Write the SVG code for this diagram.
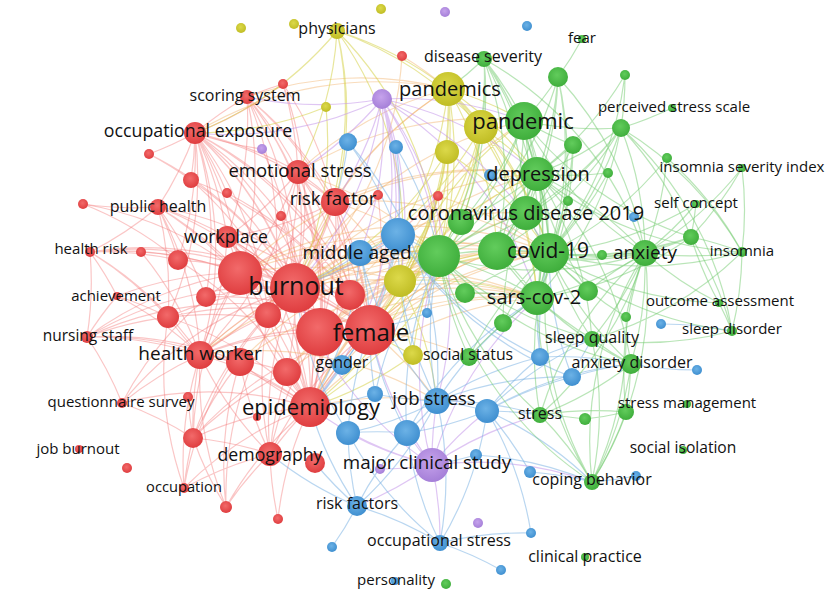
<svg xmlns="http://www.w3.org/2000/svg" width="829" height="600" viewBox="0 0 829 600">
<defs>
<radialGradient id="gR" cx="45%" cy="40%" r="60%"><stop offset="0" stop-color="#f26a6a"/><stop offset="1" stop-color="#df3d3f"/></radialGradient>
<radialGradient id="gG" cx="45%" cy="40%" r="60%"><stop offset="0" stop-color="#62cc5c"/><stop offset="1" stop-color="#3fae3c"/></radialGradient>
<radialGradient id="gB" cx="45%" cy="40%" r="60%"><stop offset="0" stop-color="#6cb2e6"/><stop offset="1" stop-color="#3f8fd0"/></radialGradient>
<radialGradient id="gY" cx="45%" cy="40%" r="60%"><stop offset="0" stop-color="#dcd94a"/><stop offset="1" stop-color="#c0bd24"/></radialGradient>
<radialGradient id="gP" cx="45%" cy="40%" r="60%"><stop offset="0" stop-color="#c6a3ec"/><stop offset="1" stop-color="#a57fd8"/></radialGradient>
</defs>
<style>
.e{fill:none;stroke-width:1.2;stroke-linecap:round}
.er{stroke:#f27878;stroke-opacity:.42}
.eo{stroke:#f0a24e;stroke-opacity:.38}
.ey{stroke:#d6d24a;stroke-opacity:.55}
.ep{stroke:#c598ea;stroke-opacity:.55}
.eb{stroke:#7fb4e4;stroke-opacity:.55}
.eg{stroke:#74cc70;stroke-opacity:.5}
.r{fill:url(#gR)} .g{fill:url(#gG)} .b{fill:url(#gB)} .y{fill:url(#gY)} .p{fill:url(#gP)}
text{font-family:"Open Sans","DejaVu Sans",sans-serif;fill:#111;text-anchor:middle}
.s15{font-size:15px}.s16{font-size:16px}.s18{font-size:18px}.s19{font-size:19px}.s20{font-size:20px}.s22{font-size:22px}.s25{font-size:25px}
</style>
<rect width="829" height="600" fill="#fff"/>
<g id="connectors">
<path class="e er" d="M195 133A350 350 0 0 1 295 288M195 133A350 350 0 0 1 240 273M195 133A350 350 0 0 1 298 172M195 133A350 350 0 0 1 335 202M195 133A350 350 0 0 1 227 237M195 133A350 350 0 0 1 200 355M195 133A350 350 0 0 1 370 330M195 133A350 350 0 0 1 320 332M195 133A350 350 0 0 1 310 407M195 133A350 350 0 0 1 178 260M195 133A350 350 0 0 1 206 297M195 133A350 350 0 0 1 158 207M195 133A350 350 0 0 1 191 180M195 133A350 350 0 0 1 227 193M195 133A350 350 0 0 1 281 216M195 133A350 350 0 0 1 350 295M195 133A350 350 0 0 1 268 315M195 133A350 350 0 0 1 247 97M195 133A350 350 0 0 1 149 154M195 133A350 350 0 0 1 168 317"/>
<path class="e er" d="M247 97A350 350 0 0 1 295 288M247 97A350 350 0 0 1 240 273M247 97A350 350 0 0 1 298 172M247 97A350 350 0 0 1 335 202M247 97A350 350 0 0 1 370 330M247 97A350 350 0 0 1 227 237M247 97A350 350 0 0 1 268 315M247 97A350 350 0 0 1 283 84M247 97A350 350 0 0 1 320 332M247 97A350 350 0 0 1 310 407"/>
<path class="e er" d="M158 207A350 350 0 0 1 295 288M158 207A350 350 0 0 1 240 273M158 207A350 350 0 0 1 200 355M158 207A350 350 0 0 1 227 237M158 207A350 350 0 0 1 90 252M158 207A350 350 0 0 1 83 204M158 207A350 350 0 0 1 178 260M158 207A350 350 0 0 1 168 317M158 207A350 350 0 0 1 310 407M158 207A350 350 0 0 1 370 330M158 207A350 350 0 0 1 206 297M158 207A350 350 0 0 1 320 332"/>
<path class="e er" d="M90 252A350 350 0 0 1 295 288M90 252A350 350 0 0 1 240 273M90 252A350 350 0 0 1 178 260M90 252A350 350 0 0 1 87 337M90 252A350 350 0 0 1 117 296M90 252A350 350 0 0 1 168 317M90 252A350 350 0 0 1 200 355M90 252A350 350 0 0 1 370 330M90 252A350 350 0 0 1 141 252"/>
<path class="e er" d="M87 337A350 350 0 0 1 295 288M87 337A350 350 0 0 1 240 273M87 337A350 350 0 0 1 200 355M87 337A350 350 0 0 1 168 317M87 337A350 350 0 0 1 310 407M87 337A350 350 0 0 1 370 330M87 337A350 350 0 0 1 117 296M87 337A350 350 0 0 1 122 403M87 337A350 350 0 0 1 320 332M87 337A350 350 0 0 1 240 362"/>
<path class="e er" d="M117 296A350 350 0 0 1 240 273M117 296A350 350 0 0 1 168 317M117 296A350 350 0 0 1 200 355M122 403A350 350 0 0 1 200 355M122 403A350 350 0 0 1 193 438M122 403A350 350 0 0 1 310 407M122 403A350 350 0 0 1 295 288M122 403A350 350 0 0 1 240 273"/>
<path class="e er" d="M184 488A350 350 0 0 1 193 438M184 488A350 350 0 0 1 270 454M184 488A350 350 0 0 1 310 407M184 488A350 350 0 0 1 200 355M184 488A350 350 0 0 1 295 288M184 488A350 350 0 0 1 168 317M226 507A350 350 0 0 1 310 407M226 507A350 350 0 0 1 270 454M226 507A350 350 0 0 1 193 438M226 507A350 350 0 0 1 295 288M226 507A350 350 0 0 1 200 355M226 507A350 350 0 0 1 240 362"/>
<path class="e er" d="M193 438A350 350 0 0 1 310 407M193 438A350 350 0 0 1 270 454M193 438A350 350 0 0 1 295 288M193 438A350 350 0 0 1 240 273M193 438A350 350 0 0 1 200 355M193 438A350 350 0 0 1 370 330M193 438A350 350 0 0 1 240 362M193 438A350 350 0 0 1 287 372M193 438A350 350 0 0 1 188 397"/>
<path class="e er" d="M270 454A350 350 0 0 1 310 407M270 454A350 350 0 0 1 295 288M270 454A350 350 0 0 1 370 330M270 454A350 350 0 0 1 320 332M270 454A350 350 0 0 1 200 355M270 454A350 350 0 0 1 240 362M270 454A350 350 0 0 1 287 372M270 454A350 350 0 0 1 268 315M278 519A350 350 0 0 1 270 454M278 519A350 350 0 0 1 310 407"/>
<path class="e er" d="M298 172A350 350 0 0 1 295 288M298 172A350 350 0 0 1 370 330M298 172A350 350 0 0 1 320 332M298 172A350 350 0 0 1 335 202M298 172A350 350 0 0 1 310 407M298 172A350 350 0 0 1 240 273M298 172A350 350 0 0 1 350 295M298 172A350 350 0 0 1 227 237M298 172A350 350 0 0 1 200 355M298 172A350 350 0 0 1 268 315"/>
<path class="e er" d="M335 202A350 350 0 0 1 295 288M335 202A350 350 0 0 1 370 330M335 202A350 350 0 0 1 320 332M335 202A350 350 0 0 1 310 407M335 202A350 350 0 0 1 240 273M335 202A350 350 0 0 1 350 295M335 202A350 350 0 0 1 268 315M335 202A350 350 0 0 1 200 355M335 202A350 350 0 0 1 227 237"/>
<path class="e er" d="M227 237A350 350 0 0 1 295 288M227 237A350 350 0 0 1 240 273M227 237A350 350 0 0 1 370 330M227 237A350 350 0 0 1 310 407M227 237A350 350 0 0 1 200 355M227 237A350 350 0 0 1 268 315M227 237A350 350 0 0 1 320 332"/>
<path class="e er" d="M200 355A350 350 0 0 1 295 288M200 355A350 350 0 0 1 240 273M200 355A350 350 0 0 1 370 330M200 355A350 350 0 0 1 320 332M200 355A350 350 0 0 1 310 407M200 355A350 350 0 0 1 240 362M200 355A350 350 0 0 1 287 372M200 355A350 350 0 0 1 268 315M200 355A350 350 0 0 1 168 317"/>
<path class="e er" d="M310 407A350 350 0 0 1 295 288M310 407A350 350 0 0 1 240 273M310 407A350 350 0 0 1 370 330M310 407A350 350 0 0 1 320 332M310 407A350 350 0 0 1 350 295M310 407A350 350 0 0 1 268 315M310 407A350 350 0 0 1 287 372M310 407A350 350 0 0 1 240 362M295 288A350 350 0 0 1 370 330M295 288A350 350 0 0 1 320 332M295 288A350 350 0 0 1 350 295M295 288A350 350 0 0 1 268 315M295 288A350 350 0 0 1 240 273M295 288A350 350 0 0 1 287 372"/>
<path class="e er" d="M283 84A350 350 0 0 1 298 172M283 84A350 350 0 0 1 335 202M283 84A350 350 0 0 1 195 133M283 84A350 350 0 0 1 295 288M149 154A350 350 0 0 1 295 288M149 154A350 350 0 0 1 191 180M83 204A350 350 0 0 1 240 273M83 204A350 350 0 0 1 178 260M141 252A350 350 0 0 1 240 273M141 252A350 350 0 0 1 200 355M206 297A350 350 0 0 1 295 288M206 297A350 350 0 0 1 370 330M178 260A350 350 0 0 1 295 288M178 260A350 350 0 0 1 370 330M178 260A350 350 0 0 1 310 407M191 180A350 350 0 0 1 295 288M191 180A350 350 0 0 1 370 330M191 180A350 350 0 0 1 310 407M227 193A350 350 0 0 1 295 288M227 193A350 350 0 0 1 370 330M281 216A350 350 0 0 1 295 288M281 216A350 350 0 0 1 370 330M281 216A350 350 0 0 1 310 407M168 317A350 350 0 0 1 295 288M168 317A350 350 0 0 1 370 330M168 317A350 350 0 0 1 310 407M378 195A350 350 0 0 1 295 288M378 195A350 350 0 0 1 370 330M438 196A350 350 0 0 1 370 330M438 196A350 350 0 0 1 295 288M262 149A350 350 0 0 1 195 133M262 149A350 350 0 0 1 295 288"/>
<path class="e eo" d="M295 288A350 350 0 0 1 439 256M295 288A350 350 0 0 1 497 251M295 288A350 350 0 0 1 549 253M295 288A350 350 0 0 1 537 174M295 288A350 350 0 0 1 524 121M295 288A350 350 0 0 1 400 281M295 288A350 350 0 0 1 448 89M295 288A350 350 0 0 1 398 235M295 288A350 350 0 0 1 537 298M295 288A350 350 0 0 1 526 213M370 330A350 350 0 0 1 439 256M370 330A350 350 0 0 1 549 253M370 330A350 350 0 0 1 537 298M370 330A350 350 0 0 1 400 281M370 330A350 350 0 0 1 437 401M370 330A350 350 0 0 1 497 251M370 330A350 350 0 0 1 524 121M370 330A350 350 0 0 1 537 174M370 330A350 350 0 0 1 469 357"/>
<path class="e eo" d="M310 407A350 350 0 0 1 537 298M310 407A350 350 0 0 1 437 401M310 407A350 350 0 0 1 400 281M310 407A350 350 0 0 1 439 256M310 407A350 350 0 0 1 549 253M335 202A350 350 0 0 1 439 256M335 202A350 350 0 0 1 400 281M335 202A350 350 0 0 1 549 253M335 202A350 350 0 0 1 537 174M335 202A350 350 0 0 1 448 89M298 172A350 350 0 0 1 439 256M298 172A350 350 0 0 1 448 89M298 172A350 350 0 0 1 524 121M240 273A350 350 0 0 1 439 256M240 273A350 350 0 0 1 549 253M240 273A350 350 0 0 1 400 281M200 355A350 350 0 0 1 439 256M200 355A350 350 0 0 1 437 401M200 355A350 350 0 0 1 537 298M247 97A350 350 0 0 1 448 89M195 133A350 350 0 0 1 448 89M402 56A350 350 0 0 1 448 89M402 56A350 350 0 0 1 295 288M438 196A350 350 0 0 1 439 256M438 196A350 350 0 0 1 549 253"/>
<path class="e eo" d="M320 332A350 350 0 0 1 439 256M320 332A350 350 0 0 1 549 253M320 332A350 350 0 0 1 537 298M320 332A350 350 0 0 1 497 251M320 332A350 350 0 0 1 400 281M320 332A350 350 0 0 1 537 174M350 295A350 350 0 0 1 439 256M350 295A350 350 0 0 1 549 253M350 295A350 350 0 0 1 400 281M350 295A350 350 0 0 1 537 298M350 295A350 350 0 0 1 497 251M268 315A350 350 0 0 1 439 256M268 315A350 350 0 0 1 400 281M268 315A350 350 0 0 1 549 253M287 372A350 350 0 0 1 439 256M287 372A350 350 0 0 1 537 298M287 372A350 350 0 0 1 400 281M240 362A350 350 0 0 1 439 256M240 362A350 350 0 0 1 537 298M240 273A350 350 0 0 1 497 251M240 273A350 350 0 0 1 537 174M310 407A350 350 0 0 1 497 251M310 407A350 350 0 0 1 526 213"/>
<path class="e ey" d="M337 31A350 350 0 0 1 448 89M337 31A350 350 0 0 1 481 127M337 31A350 350 0 0 1 400 281M337 31A350 350 0 0 1 295 288M337 31A350 350 0 0 1 298 172M337 31A350 350 0 0 1 439 256M337 31A350 350 0 0 1 335 202M337 31A350 350 0 0 1 195 133M326 107A350 350 0 0 1 195 133M326 107A350 350 0 0 1 295 288"/>
<path class="e ey" d="M448 89A350 350 0 0 1 481 127M448 89A350 350 0 0 1 400 281M448 89A350 350 0 0 1 439 256M448 89A350 350 0 0 1 497 251M448 89A350 350 0 0 1 549 253M448 89A350 350 0 0 1 524 121M448 89A350 350 0 0 1 537 174M448 89A350 350 0 0 1 370 330M448 89A350 350 0 0 1 310 407M448 89A350 350 0 0 1 398 235M448 89A350 350 0 0 1 537 298"/>
<path class="e ey" d="M481 127A350 350 0 0 1 400 281M481 127A350 350 0 0 1 439 256M481 127A350 350 0 0 1 549 253M481 127A350 350 0 0 1 537 298M481 127A350 350 0 0 1 370 330M481 127A350 350 0 0 1 295 288M481 127A350 350 0 0 1 310 407M481 127A350 350 0 0 1 537 174M447 152A350 350 0 0 1 400 281M447 152A350 350 0 0 1 439 256M447 152A350 350 0 0 1 295 288M447 152A350 350 0 0 1 370 330M447 152A350 350 0 0 1 549 253M400 281A350 350 0 0 1 370 330M400 281A350 350 0 0 1 439 256M400 281A350 350 0 0 1 537 298M400 281A350 350 0 0 1 437 401M413 355A350 350 0 0 1 370 330M413 355A350 350 0 0 1 439 256M413 355A350 350 0 0 1 400 281M413 355A350 350 0 0 1 310 407M400 281A350 350 0 0 1 549 253M400 281A350 350 0 0 1 497 251M400 281A350 350 0 0 1 537 174M400 281A350 350 0 0 1 524 121"/>
<path class="e ep" d="M382 99A350 350 0 0 1 295 288M382 99A350 350 0 0 1 370 330M382 99A350 350 0 0 1 310 407M382 99A350 350 0 0 1 439 256M382 99A350 350 0 0 1 400 281M382 99A350 350 0 0 1 398 235M382 99A350 350 0 0 1 335 202M382 99A350 350 0 0 1 298 172M382 99A350 350 0 0 1 360 253M382 99A350 350 0 0 1 437 401M382 99A350 350 0 0 1 549 253M382 99A350 350 0 0 1 247 97M382 99A350 350 0 0 1 195 133M382 99A350 350 0 0 1 537 298M382 99A350 350 0 0 1 537 174M382 99A350 350 0 0 1 524 121"/>
<path class="e ep" d="M432 465A350 350 0 0 1 437 401M432 465A350 350 0 0 1 348 433M432 465A350 350 0 0 1 407 433M432 465A350 350 0 0 1 487 411M432 465A350 350 0 0 1 310 407M432 465A350 350 0 0 1 370 330M432 465A350 350 0 0 1 295 288M432 465A350 350 0 0 1 439 256M432 465A350 350 0 0 1 357 506M432 465A350 350 0 0 1 440 543M432 465A350 350 0 0 1 592 482M432 465A350 350 0 0 1 540 415M432 465A350 350 0 0 1 380 469M432 465A350 350 0 0 1 537 298"/>
<path class="e eb" d="M437 401A350 350 0 0 1 348 433M437 401A350 350 0 0 1 407 433M437 401A350 350 0 0 1 487 411M437 401A350 350 0 0 1 398 235M437 401A350 350 0 0 1 360 253M437 401A350 350 0 0 1 439 256M437 401A350 350 0 0 1 540 357M437 401A350 350 0 0 1 572 377M437 401A350 350 0 0 1 357 506M437 401A350 350 0 0 1 440 543M437 401A350 350 0 0 1 540 415M437 401A350 350 0 0 1 375 394M437 401A350 350 0 0 1 537 298"/>
<path class="e eb" d="M487 411A350 350 0 0 1 540 357M487 411A350 350 0 0 1 572 377M487 411A350 350 0 0 1 592 482M487 411A350 350 0 0 1 540 415M487 411A350 350 0 0 1 440 543M487 411A350 350 0 0 1 530 472M487 411A350 350 0 0 1 531 533M487 411A350 350 0 0 1 631 364M487 411A350 350 0 0 1 407 433M487 411A350 350 0 0 1 592 339"/>
<path class="e eb" d="M357 506A350 350 0 0 1 332 547M357 506A350 350 0 0 1 348 433M357 506A350 350 0 0 1 407 433M357 506A350 350 0 0 1 310 407M357 506A350 350 0 0 1 270 454M357 506A350 350 0 0 1 440 543M357 506A350 350 0 0 1 315 463M440 543A350 350 0 0 1 531 533M440 543A350 350 0 0 1 348 433M440 543A350 350 0 0 1 407 433M440 543A350 350 0 0 1 501 570"/>
<path class="e eb" d="M540 357A350 350 0 0 1 592 339M540 357A350 350 0 0 1 631 364M540 357A350 350 0 0 1 398 235M540 357A350 350 0 0 1 537 298M540 357A350 350 0 0 1 549 253M572 377A350 350 0 0 1 592 339M572 377A350 350 0 0 1 631 364M572 377A350 350 0 0 1 398 235M572 377A350 350 0 0 1 549 253M398 235A350 350 0 0 1 360 253M398 235A350 350 0 0 1 370 330M398 235A350 350 0 0 1 295 288M398 235A350 350 0 0 1 439 256M398 235A350 350 0 0 1 310 407M360 253A350 350 0 0 1 295 288M360 253A350 350 0 0 1 370 330M360 253A350 350 0 0 1 439 256M360 253A350 350 0 0 1 310 407"/>
<path class="e eb" d="M348 142A350 350 0 0 1 398 235M348 142A350 350 0 0 1 335 202M348 142A350 350 0 0 1 437 401M396 147A350 350 0 0 1 398 235M396 147A350 350 0 0 1 439 256M697 370A350 350 0 0 1 631 364M661 324A350 350 0 0 1 732 331M636 476A350 350 0 0 1 592 482M530 472A350 350 0 0 1 592 482M476 455A350 350 0 0 1 432 465M476 455A350 350 0 0 1 592 482M342 365A350 350 0 0 1 370 330M342 365A350 350 0 0 1 310 407M375 394A350 350 0 0 1 310 407M375 394A350 350 0 0 1 370 330M348 433A350 350 0 0 1 370 330M348 433A350 350 0 0 1 295 288M348 433A350 350 0 0 1 407 433M407 433A350 350 0 0 1 370 330M407 433A350 350 0 0 1 439 256M407 433A350 350 0 0 1 537 298M375 394A350 350 0 0 1 439 256M427 313A350 350 0 0 1 439 256M427 313A350 350 0 0 1 370 330"/>
<path class="e eg" d="M484 59A350 350 0 0 1 524 121M484 59A350 350 0 0 1 537 174M484 59A350 350 0 0 1 549 253M484 59A350 350 0 0 1 497 251M484 59A350 350 0 0 1 439 256M484 59A350 350 0 0 1 461 222M484 59A350 350 0 0 1 526 213M484 59A350 350 0 0 1 448 89M484 59A350 350 0 0 1 481 127M484 59A350 350 0 0 1 645 253M484 59A350 350 0 0 1 537 298"/>
<path class="e eg" d="M558 77A350 350 0 0 1 524 121M558 77A350 350 0 0 1 537 174M558 77A350 350 0 0 1 549 253M558 77A350 350 0 0 1 526 213M558 77A350 350 0 0 1 497 251M558 77A350 350 0 0 1 645 253M558 77A350 350 0 0 1 439 256M558 77A350 350 0 0 1 537 298M625 75A350 350 0 0 1 621 128M625 75A350 350 0 0 1 537 174M625 75A350 350 0 0 1 549 253M582 39A350 350 0 0 1 558 77M672 108A350 350 0 0 1 621 128"/>
<path class="e eg" d="M621 128A350 350 0 0 1 524 121M621 128A350 350 0 0 1 537 174M621 128A350 350 0 0 1 549 253M621 128A350 350 0 0 1 645 253M621 128A350 350 0 0 1 497 251M621 128A350 350 0 0 1 439 256M621 128A350 350 0 0 1 537 298M621 128A350 350 0 0 1 526 213M621 128A350 350 0 0 1 742 252M621 128A350 350 0 0 1 691 237M621 128A350 350 0 0 1 732 331"/>
<path class="e eg" d="M573 145A350 350 0 0 1 549 253M573 145A350 350 0 0 1 537 174M573 145A350 350 0 0 1 524 121M573 145A350 350 0 0 1 537 298M573 145A350 350 0 0 1 497 251M667 158A350 350 0 0 1 549 253M667 158A350 350 0 0 1 645 253M667 158A350 350 0 0 1 742 252M742 168A350 350 0 0 1 742 252M742 168A350 350 0 0 1 691 237M742 168A350 350 0 0 1 645 253"/>
<path class="e eg" d="M537 174A350 350 0 0 1 549 253M537 174A350 350 0 0 1 439 256M537 174A350 350 0 0 1 497 251M537 174A350 350 0 0 1 537 298M537 174A350 350 0 0 1 645 253M537 174A350 350 0 0 1 524 121M537 174A350 350 0 0 1 461 222M537 174A350 350 0 0 1 526 213M537 174A350 350 0 0 1 631 364M537 174A350 350 0 0 1 592 339"/>
<path class="e eg" d="M696 204A350 350 0 0 1 645 253M696 204A350 350 0 0 1 549 253M696 204A350 350 0 0 1 691 237M691 237A350 350 0 0 1 645 253M691 237A350 350 0 0 1 549 253M691 237A350 350 0 0 1 742 252M691 237A350 350 0 0 1 732 331M691 237A350 350 0 0 1 497 251M691 237A350 350 0 0 1 537 298M691 237A350 350 0 0 1 524 121"/>
<path class="e eg" d="M742 252A350 350 0 0 1 645 253M742 252A350 350 0 0 1 549 253M742 252A350 350 0 0 1 732 331M742 252A350 350 0 0 1 592 339M742 252A350 350 0 0 1 537 174M645 253A350 350 0 0 1 549 253M645 253A350 350 0 0 1 497 251M645 253A350 350 0 0 1 439 256M645 253A350 350 0 0 1 537 298M645 253A350 350 0 0 1 631 364M645 253A350 350 0 0 1 592 339M645 253A350 350 0 0 1 540 415M645 253A350 350 0 0 1 592 482M645 253A350 350 0 0 1 524 121"/>
<path class="e eg" d="M719 303A350 350 0 0 1 732 331M719 303A350 350 0 0 1 645 253M719 303A350 350 0 0 1 549 253M719 303A350 350 0 0 1 691 237M732 331A350 350 0 0 1 592 339M732 331A350 350 0 0 1 549 253M631 364A350 350 0 0 1 549 253M631 364A350 350 0 0 1 537 298M631 364A350 350 0 0 1 540 415M631 364A350 350 0 0 1 592 482M631 364A350 350 0 0 1 439 256M631 364A350 350 0 0 1 497 251M631 364A350 350 0 0 1 626 412M631 364A350 350 0 0 1 592 339"/>
<path class="e eg" d="M592 339A350 350 0 0 1 549 253M592 339A350 350 0 0 1 537 298M592 339A350 350 0 0 1 592 482M592 339A350 350 0 0 1 439 256M540 415A350 350 0 0 1 592 482M540 415A350 350 0 0 1 585 419M540 415A350 350 0 0 1 626 412M540 415A350 350 0 0 1 439 256M540 415A350 350 0 0 1 549 253M540 415A350 350 0 0 1 645 253M626 412A350 350 0 0 1 585 419M626 412A350 350 0 0 1 592 482M626 412A350 350 0 0 1 645 253"/>
<path class="e eg" d="M592 482A350 350 0 0 1 549 253M592 482A350 350 0 0 1 537 298M592 482A350 350 0 0 1 439 256M592 482A350 350 0 0 1 645 253M626 317A350 350 0 0 1 592 482M626 317A350 350 0 0 1 549 253M626 317A350 350 0 0 1 645 253M524 121A350 350 0 0 1 549 253M524 121A350 350 0 0 1 439 256M524 121A350 350 0 0 1 497 251M524 121A350 350 0 0 1 537 298M524 121A350 350 0 0 1 526 213M524 121A350 350 0 0 1 461 222"/>
<path class="e eg" d="M439 256A350 350 0 0 1 549 253M439 256A350 350 0 0 1 497 251M439 256A350 350 0 0 1 537 298M439 256A350 350 0 0 1 526 213M439 256A350 350 0 0 1 461 222M439 256A350 350 0 0 1 465 293M497 251A350 350 0 0 1 549 253M497 251A350 350 0 0 1 537 298M497 251A350 350 0 0 1 526 213M549 253A350 350 0 0 1 537 298M549 253A350 350 0 0 1 526 213M588 291A350 350 0 0 1 549 253M588 291A350 350 0 0 1 537 174M588 291A350 350 0 0 1 645 253M465 293A350 350 0 0 1 549 253M465 293A350 350 0 0 1 537 298M503 323A350 350 0 0 1 549 253M503 323A350 350 0 0 1 537 174M469 357A350 350 0 0 1 549 253M469 357A350 350 0 0 1 439 256M469 357A350 350 0 0 1 537 298M568 201A350 350 0 0 1 549 253M568 201A350 350 0 0 1 537 174M608 173A350 350 0 0 1 537 174M608 173A350 350 0 0 1 549 253M602 255A350 350 0 0 1 549 253M602 255A350 350 0 0 1 645 253"/>
</g>
<g id="nodes">
<g id="n-r1"><circle class="r" cx="283" cy="84" r="5"/></g>
<g id="n-r2"><circle class="r" cx="402" cy="56" r="5"/></g>
<g id="n-r3"><circle class="r" cx="149" cy="154" r="5"/></g>
<g id="n-r4"><circle class="r" cx="191" cy="180" r="8"/></g>
<g id="n-r5"><circle class="r" cx="227" cy="193" r="5"/></g>
<g id="n-r6"><circle class="r" cx="378" cy="195" r="5"/></g>
<g id="n-r7"><circle class="r" cx="438" cy="196" r="5"/></g>
<g id="n-r8"><circle class="r" cx="83" cy="204" r="5"/></g>
<g id="n-r9"><circle class="r" cx="281" cy="216" r="5"/></g>
<g id="n-r10"><circle class="r" cx="141" cy="252" r="5"/></g>
<g id="n-r11"><circle class="r" cx="178" cy="260" r="10"/></g>
<g id="n-r12"><circle class="r" cx="206" cy="297" r="10"/></g>
<g id="n-r2b"><circle class="r" cx="240" cy="273" r="22"/></g>
<g id="n-r13"><circle class="r" cx="350" cy="295" r="15"/></g>
<g id="n-r14"><circle class="r" cx="268" cy="315" r="13"/></g>
<g id="n-r15"><circle class="r" cx="168" cy="317" r="11"/></g>
<g id="n-r16"><circle class="r" cx="240" cy="362" r="14"/></g>
<g id="n-r17"><circle class="r" cx="287" cy="372" r="14"/></g>
<g id="n-r18"><circle class="r" cx="188" cy="397" r="5"/></g>
<g id="n-r19"><circle class="r" cx="193" cy="438" r="10"/></g>
<g id="n-r20"><circle class="r" cx="315" cy="463" r="10"/></g>
<g id="n-r21"><circle class="r" cx="127" cy="468" r="5"/></g>
<g id="n-r22"><circle class="r" cx="226" cy="507" r="6"/></g>
<g id="n-r23"><circle class="r" cx="278" cy="519" r="5"/></g>
<g id="n-r24"><circle class="r" cx="257" cy="417" r="4"/></g>
<g id="n-f2"><circle class="r" cx="320" cy="332" r="24"/></g>
<g id="n-y1"><circle class="y" cx="241" cy="28" r="5"/></g>
<g id="n-y2"><circle class="y" cx="294" cy="24" r="5"/></g>
<g id="n-y3"><circle class="y" cx="381" cy="9" r="5"/></g>
<g id="n-y4"><circle class="y" cx="326" cy="107" r="5"/></g>
<g id="n-y5"><circle class="y" cx="447" cy="152" r="12"/></g>
<g id="n-y6"><circle class="y" cx="400" cy="281" r="16"/></g>
<g id="n-y7"><circle class="y" cx="413" cy="355" r="10"/></g>
<g id="n-yp2"><circle class="y" cx="481" cy="127" r="17"/></g>
<g id="n-p1"><circle class="p" cx="382" cy="99" r="10"/></g>
<g id="n-p2"><circle class="p" cx="262" cy="149" r="5"/></g>
<g id="n-p3"><circle class="p" cx="445" cy="12" r="5"/></g>
<g id="n-p4"><circle class="p" cx="380" cy="469" r="5"/></g>
<g id="n-p5"><circle class="p" cx="478" cy="523" r="5"/></g>
<g id="n-b1"><circle class="b" cx="348" cy="142" r="9"/></g>
<g id="n-b2"><circle class="b" cx="396" cy="147" r="7"/></g>
<g id="n-b3"><circle class="b" cx="527" cy="26" r="5"/></g>
<g id="n-b4"><circle class="b" cx="490" cy="175" r="6"/></g>
<g id="n-bb"><circle class="b" cx="398" cy="235" r="17"/></g>
<g id="n-b5"><circle class="b" cx="427" cy="313" r="5"/></g>
<g id="n-b6"><circle class="b" cx="375" cy="394" r="8"/></g>
<g id="n-b7"><circle class="b" cx="348" cy="433" r="12"/></g>
<g id="n-b8"><circle class="b" cx="407" cy="433" r="13"/></g>
<g id="n-b9"><circle class="b" cx="487" cy="411" r="12"/></g>
<g id="n-b10"><circle class="b" cx="476" cy="455" r="6"/></g>
<g id="n-b11"><circle class="b" cx="530" cy="472" r="6"/></g>
<g id="n-b12"><circle class="b" cx="540" cy="357" r="9"/></g>
<g id="n-b13"><circle class="b" cx="572" cy="377" r="9"/></g>
<g id="n-b14"><circle class="b" cx="634" cy="217" r="5"/></g>
<g id="n-b15"><circle class="b" cx="661" cy="324" r="5"/></g>
<g id="n-b16"><circle class="b" cx="697" cy="370" r="5"/></g>
<g id="n-b17"><circle class="b" cx="636" cy="476" r="5"/></g>
<g id="n-b18"><circle class="b" cx="531" cy="533" r="5"/></g>
<g id="n-b19"><circle class="b" cx="332" cy="547" r="5"/></g>
<g id="n-b20"><circle class="b" cx="501" cy="570" r="5"/></g>
<g id="n-g1"><circle class="g" cx="558" cy="77" r="10"/></g>
<g id="n-g2"><circle class="g" cx="625" cy="75" r="5"/></g>
<g id="n-g3"><circle class="g" cx="621" cy="128" r="9"/></g>
<g id="n-g4"><circle class="g" cx="573" cy="145" r="9"/></g>
<g id="n-g5"><circle class="g" cx="667" cy="158" r="5"/></g>
<g id="n-g6"><circle class="g" cx="608" cy="173" r="5"/></g>
<g id="n-g7"><circle class="g" cx="568" cy="201" r="5"/></g>
<g id="n-g8"><circle class="g" cx="461" cy="222" r="13"/></g>
<g id="n-g9"><circle class="g" cx="439" cy="256" r="21"/></g>
<g id="n-g10"><circle class="g" cx="497" cy="251" r="19"/></g>
<g id="n-g11"><circle class="g" cx="602" cy="255" r="5"/></g>
<g id="n-g12"><circle class="g" cx="691" cy="237" r="8"/></g>
<g id="n-g13"><circle class="g" cx="588" cy="291" r="10"/></g>
<g id="n-g14"><circle class="g" cx="465" cy="293" r="10"/></g>
<g id="n-g15"><circle class="g" cx="503" cy="323" r="9"/></g>
<g id="n-g16"><circle class="g" cx="626" cy="317" r="5"/></g>
<g id="n-g17"><circle class="g" cx="585" cy="419" r="6"/></g>
<g id="n-g18"><circle class="g" cx="687" cy="404" r="4"/></g>
<g id="n-g19"><circle class="g" cx="446" cy="584" r="5"/></g>
<g id="n-burnout"><circle class="r" cx="295" cy="288" r="25"/><text class="s25" x="296" y="295">burnout</text></g>
<g id="n-female"><circle class="r" cx="370" cy="330" r="25"/><text class="s25" x="371" y="341" style="font-size:24px">female</text></g>
<g id="n-gender"><circle class="b" cx="342" cy="365" r="10"/><text class="s16" x="342" y="368">gender</text></g>
<g id="n-epidemiology"><circle class="r" cx="310" cy="407" r="20"/><text class="s22" x="311" y="415">epidemiology</text></g>
<g id="n-pandemic"><circle class="g" cx="524" cy="121" r="19"/><text class="s22" x="523" y="129">pandemic</text></g>
<g id="n-covid19"><circle class="g" cx="549" cy="253" r="20"/><text x="548" y="258" style="font-size:21px">covid-19</text></g>
<g id="n-pandemics"><circle class="y" cx="448" cy="89" r="17"/><text class="s20" x="450" y="96">pandemics</text></g>
<g id="n-depression"><circle class="g" cx="537" cy="174" r="17"/><text class="s20" x="538" y="181">depression</text></g>
<g id="n-coronavirus"><circle class="g" cx="526" cy="213" r="17"/><text class="s20" x="526" y="220">coronavirus disease 2019</text></g>
<g id="n-sarscov2"><circle class="g" cx="537" cy="298" r="17"/><text class="s20" x="534" y="304">sars-cov-2</text></g>
<g id="n-anxiety"><circle class="g" cx="645" cy="253" r="13"/><text class="s19" x="645" y="259">anxiety</text></g>
<g id="n-middleaged"><circle class="b" cx="360" cy="253" r="13"/><text class="s19" x="357" y="259">middle aged</text></g>
<g id="n-healthworker"><circle class="r" cx="200" cy="355" r="14"/><text class="s19" x="200" y="360">health worker</text></g>
<g id="n-jobstress"><circle class="b" cx="437" cy="401" r="13"/><text x="434" y="405" style="font-size:18.6px">job stress</text></g>
<g id="n-majorclinical"><circle class="p" cx="432" cy="465" r="17"/><text x="427" y="469" style="font-size:18.8px">major clinical study</text></g>
<g id="n-riskfactor"><circle class="r" cx="335" cy="202" r="14"/><text x="333" y="205" style="font-size:18.6px">risk factor</text></g>
<g id="n-emotional"><circle class="r" cx="298" cy="172" r="12"/><text x="300" y="177" style="font-size:18.5px">emotional stress</text></g>
<g id="n-workplace"><circle class="r" cx="227" cy="237" r="11"/><text x="226" y="243" style="font-size:17.6px">workplace</text></g>
<g id="n-occexposure"><circle class="r" cx="195" cy="133" r="11"/><text x="198" y="137" style="font-size:17.8px">occupational exposure</text></g>
<g id="n-demography"><circle class="r" cx="270" cy="454" r="12"/><text x="270" y="461" style="font-size:17.7px">demography</text></g>
<g id="n-scoring"><circle class="r" cx="247" cy="97" r="7"/><text class="s16" x="245" y="101">scoring system</text></g>
<g id="n-publichealth"><circle class="r" cx="158" cy="207" r="8"/><text class="s16" x="158" y="212">public health</text></g>
<g id="n-physicians"><circle class="y" cx="337" cy="31" r="8"/><text class="s16" x="337" y="34">physicians</text></g>
<g id="n-diseaseseverity"><circle class="g" cx="484" cy="59" r="8"/><text class="s16" x="483" y="62">disease severity</text></g>
<g id="n-anxietydisorder"><circle class="g" cx="631" cy="364" r="10"/><text class="s16" x="632" y="368">anxiety disorder</text></g>
<g id="n-sleepquality"><circle class="g" cx="592" cy="339" r="8"/><text class="s16" x="592" y="343">sleep quality</text></g>
<g id="n-socialstatus"><circle class="g" cx="469" cy="357" r="9"/><text x="468" y="360" style="font-size:15.8px">social status</text></g>
<g id="n-coping"><circle class="g" cx="592" cy="482" r="8"/><text class="s16" x="592" y="485">coping behavior</text></g>
<g id="n-stress"><circle class="g" cx="540" cy="415" r="8"/><text class="s16" x="540" y="419">stress</text></g>
<g id="n-riskfactors"><circle class="b" cx="357" cy="506" r="10"/><text class="s16" x="357" y="509">risk factors</text></g>
<g id="n-occstress"><circle class="b" cx="440" cy="543" r="8"/><text class="s16" x="439" y="546">occupational stress</text></g>
<g id="n-clinicalpractice"><circle class="g" cx="585" cy="557" r="4"/><text class="s16" x="585" y="562">clinical practice</text></g>
<g id="n-socialisolation"><circle class="g" cx="683" cy="450" r="4"/><text x="683" y="453" style="font-size:15.6px">social isolation</text></g>
<g id="n-stressmgmt"><circle class="g" cx="626" cy="412" r="8"/><text class="s15" x="687" y="408">stress management</text></g>
<g id="n-sleepdisorder"><circle class="g" cx="732" cy="331" r="5"/><text class="s15" x="732" y="334">sleep disorder</text></g>
<g id="n-outcome"><circle class="g" cx="719" cy="303" r="4"/><text class="s15" x="720" y="306">outcome assessment</text></g>
<g id="n-pss"><circle class="g" cx="672" cy="108" r="4"/><text class="s15" x="674" y="112">perceived stress scale</text></g>
<g id="n-isi"><circle class="g" cx="742" cy="168" r="4"/><text class="s15" x="742" y="172">insomnia severity index</text></g>
<g id="n-selfconcept"><circle class="g" cx="696" cy="204" r="4"/><text class="s15" x="696" y="208">self concept</text></g>
<g id="n-insomnia"><circle class="g" cx="742" cy="252" r="5"/><text class="s15" x="742" y="256">insomnia</text></g>
<g id="n-fear"><circle class="g" cx="582" cy="39" r="4"/><text class="s15" x="582" y="43">fear</text></g>
<g id="n-healthrisk"><circle class="r" cx="90" cy="252" r="5"/><text class="s15" x="91" y="254">health risk</text></g>
<g id="n-achievement"><circle class="r" cx="117" cy="296" r="4"/><text class="s15" x="116" y="301">achievement</text></g>
<g id="n-nursing"><circle class="r" cx="87" cy="337" r="6"/><text x="88" y="341" style="font-size:15.5px">nursing staff</text></g>
<g id="n-questionnaire"><circle class="r" cx="122" cy="403" r="5"/><text class="s15" x="121" y="407">questionnaire survey</text></g>
<g id="n-jobburnout"><circle class="r" cx="79" cy="449" r="4"/><text class="s15" x="78" y="454">job burnout</text></g>
<g id="n-occupation"><circle class="r" cx="184" cy="488" r="5"/><text x="184" y="492" style="font-size:14.7px">occupation</text></g>
<g id="n-personality"><circle class="b" cx="395" cy="581" r="4"/><text class="s15" x="396" y="585">personality</text></g>
</g>
</svg>
